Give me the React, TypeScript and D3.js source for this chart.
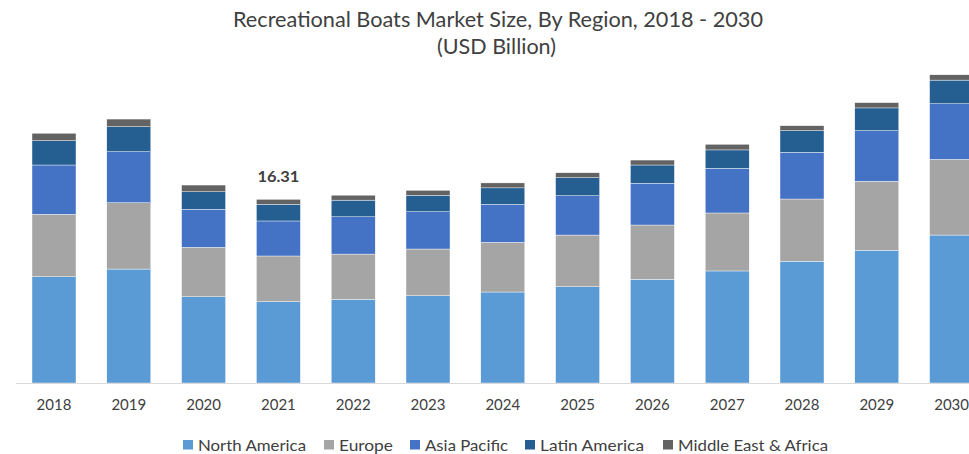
import React from "react";
import * as d3 from "d3";

const years = ["2018","2019","2020","2021","2022","2023","2024","2025","2026","2027","2028","2029","2030"];
const seriesNames = ["North America","Europe","Asia Pacific","Latin America","Middle East & Africa"];
const northAmerica = [9.44,10.12,7.66,7.22,7.43,7.75,8.08,8.55,9.21,9.95,10.81,11.79,13.14];
const europe = [5.54,5.89,4.39,4.06,4.02,4.15,4.41,4.59,4.82,5.15,5.53,6.13,6.72];
const asiaPacific = [4.38,4.53,3.37,3.11,3.31,3.31,3.37,3.49,3.70,3.97,4.15,4.49,4.94];
const latinAmerica = [2.16,2.22,1.56,1.48,1.48,1.46,1.47,1.60,1.63,1.63,1.92,2.02,2.10];
const middleEastAfrica = [0.66,0.68,0.60,0.44,0.44,0.44,0.44,0.44,0.44,0.50,0.44,0.47,0.47];
const labelYear = "2021";
const labelText = "16.31";

const colors = ["#5B9BD5","#A5A5A5","#4472C4","#255E91","#636363"];
const FONT = "Lato, 'Open Sans', sans-serif";
const TEXT = "#404040";

export default function App() {
  const W = 969, H = 454;
  const rows = years.map((y, i) => ({
    year: y,
    "North America": northAmerica[i],
    "Europe": europe[i],
    "Asia Pacific": asiaPacific[i],
    "Latin America": latinAmerica[i],
    "Middle East & Africa": middleEastAfrica[i],
  }));
  const stacked = d3.stack<any>().keys(seriesNames)(rows);
  const x = d3.scaleBand<string>().domain(years).range([16.6, 989]).paddingInner(0.412).paddingOuter(0.206);
  const y = d3.scaleLinear().domain([0, 30]).range([383, 45.2]);
  const li = years.indexOf(labelYear);
  const labelTotal = northAmerica[li] + europe[li] + asiaPacific[li] + latinAmerica[li] + middleEastAfrica[li];

  const legendX = [183, 324, 410, 525, 663];
  const legendW = [108, 54, 83, 104, 150];

  return (
    <svg width={W} height={H} style={{ position: "absolute", left: 0, top: 0, display: "block", background: "#fff" }}>
      <text x={233} y={27} textLength={530} lengthAdjust="spacingAndGlyphs" fontFamily={FONT} fontSize={21} fill={TEXT}>
        Recreational Boats Market Size, By Region, 2018 - 2030
      </text>
      <text x={437} y={54} textLength={119} lengthAdjust="spacingAndGlyphs" fontFamily={FONT} fontSize={21} fill={TEXT}>
        (USD Billion)
      </text>
      {stacked.map((s, si) => (
        <g key={s.key} fill={colors[si]}>
          {s.map((d, i) => (
            <rect key={i} x={x(years[i])} y={y(d[1])} width={x.bandwidth()} height={y(d[0]) - y(d[1])} stroke="#ffffff" strokeWidth={0.4} />
          ))}
        </g>
      ))}
      <line x1={16} x2={989} y1={383.5} y2={383.5} stroke="#D9D9D9" strokeWidth={1} />
      {years.map((yr) => (
        <text key={yr} x={(x(yr) as number) + x.bandwidth() / 2} y={410} textAnchor="middle" fontFamily={FONT} fontSize={15} fill={TEXT}>
          {yr}
        </text>
      ))}
      <text x={(x(labelYear) as number) + x.bandwidth() / 2 - 21} y={y(labelTotal) - 17} textLength={42} lengthAdjust="spacingAndGlyphs" fontFamily={FONT} fontSize={15} fontWeight="bold" fill={TEXT}>
        {labelText}
      </text>
      {seriesNames.map((n, i) => (
        <g key={n} transform={`translate(${legendX[i]},0)`}>
          <rect x={0} y={440} width={10} height={9.5} fill={colors[i]} />
          <text x={15} y={450.5} textLength={legendW[i]} lengthAdjust="spacingAndGlyphs" fontFamily={FONT} fontSize={16} fill={TEXT}>{n}</text>
        </g>
      ))}
    </svg>
  );
}
